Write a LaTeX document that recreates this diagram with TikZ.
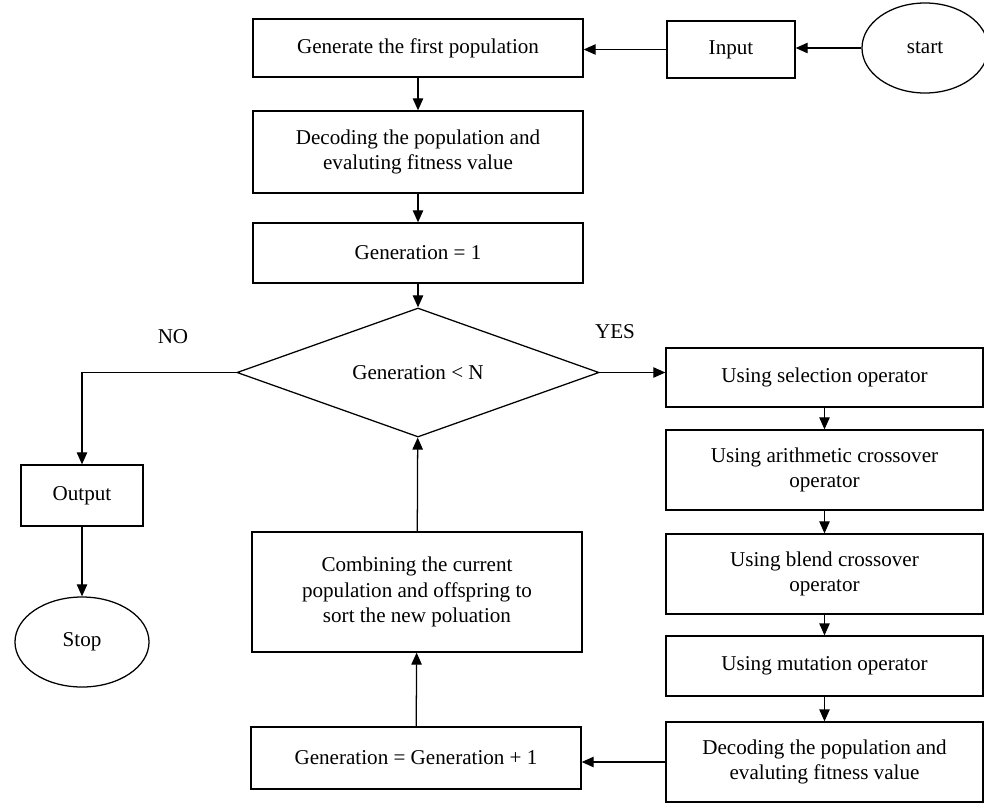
\documentclass[tikz,border=0pt]{standalone}
\usepackage{fontspec}
\setmainfont{Liberation Serif}
\usetikzlibrary{shapes.geometric,arrows.meta}

\begin{document}
\begin{tikzpicture}[x=0.025cm, y=-0.025cm,
    every node/.style={font=\fontsize{15}{18}\selectfont},
    box/.style={draw, line width=.9pt, align=center, inner sep=0pt},
    term/.style={ellipse, draw, line width=.9pt, inner sep=0pt, minimum height=2.25cm},
    cond/.style={diamond, draw, line width=.9pt, aspect=2.8, inner sep=0pt,
                 minimum width=9.05cm, minimum height=3.225cm},
    mainbox/.style={box, minimum width=8.25cm},
    opbox/.style={box, minimum width=7.925cm},
    arrow/.style={-{Triangle[length=3mm,width=2.6mm]}, line width=.9pt}]

    \useasboundingbox (0,0) rectangle (984,803);

    %top row
    \node[term, minimum width=3.15cm] (start) at (925,48) {start};
    \node[box, minimum width=3.2cm, minimum height=1.425cm] (input) at (731,49.5) {Input};
    \node[mainbox, minimum height=1.45cm] (first) at (418,48) {Generate the first population};

    %main column
    \node[mainbox, minimum height=2.05cm] (decode) at (418,152) {Decoding the population and\\evaluting fitness value};
    \node[mainbox, minimum height=1.5cm] (gen1) at (418,253) {Generation = 1};
    \node[cond] (test) at (418,372.5) {Generation < N};
    \node (no) at (173,337) {NO};
    \node (yes) at (615,332) {YES};
    \node[mainbox, minimum height=3cm] (merge) at (417,592) {Combining the current\\population and offspring to\\sort the new poluation};
    \node[mainbox, minimum height=1.55cm] (next) at (416,758) {Generation = Generation + 1};

    %left column
    \node[box, minimum width=3.05cm, minimum height=1.525cm] (output) at (82,495.5) {Output};
    \node[term, minimum width=3.35cm] (stop) at (82,642) {Stop};

    %right column
    \node[opbox, minimum height=1.475cm] (select) at (824.5,377.5) {Using selection operator};
    \node[opbox, minimum height=2cm] (arith) at (824.5,470) {Using arithmetic crossover\\operator};
    \node[opbox, minimum height=2cm] (blend) at (824.5,574) {Using blend crossover\\operator};
    \node[opbox, minimum height=1.5cm] (mutate) at (824.5,666) {Using mutation operator};
    \node[opbox, minimum height=2cm] (decode2) at (824.5,762) {Decoding the population and\\evaluting fitness value};

    %arrows
    \draw[arrow] (start.west) -- (start.west -| input.east);
    \draw[arrow] (input.west) -- (input.west -| first.east);
    \draw[arrow] (first) -- (decode);
    \draw[arrow] (decode) -- (gen1);
    \draw[arrow] (gen1) -- (test);
    \draw[arrow] (test.east) -- (test.east -| select.west);
    \draw[arrow] (test.west) -| (output);
    \draw[arrow] (output) -- (stop);
    \draw[arrow] (select) -- (arith);
    \draw[arrow] (arith) -- (blend);
    \draw[arrow] (blend) -- (mutate);
    \draw[arrow] (mutate) -- (decode2);
    \draw[arrow] (decode2.west) -- (decode2.west -| next.east);
    \draw[arrow] (next) -- (merge);
    \draw[arrow] (merge) -- (test);

\end{tikzpicture}
\end{document}
